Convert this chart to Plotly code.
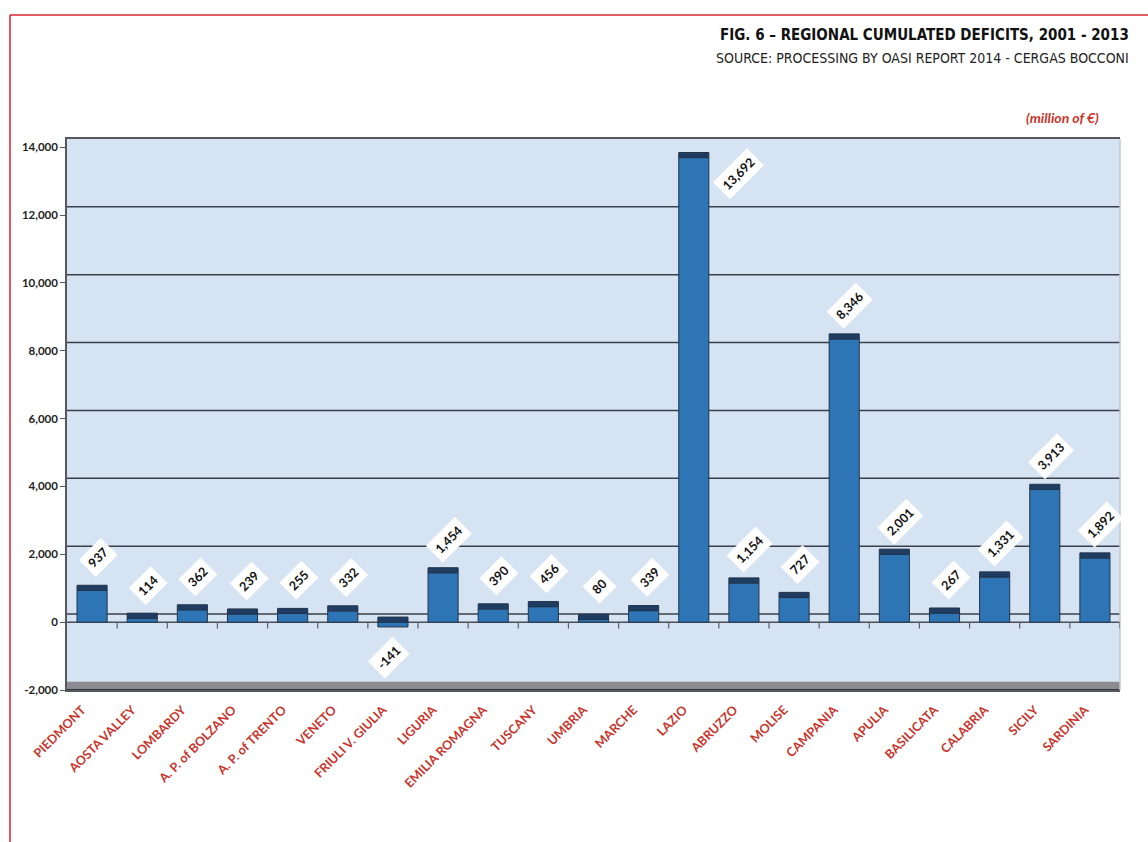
import plotly.graph_objects as go

# Regional cumulated deficits 2001-2013 (million of €)
regions = [
    "PIEDMONT", "AOSTA VALLEY", "LOMBARDY", "A. P. of BOLZANO", "A. P. of TRENTO",
    "VENETO", "FRIULI V. GIULIA", "LIGURIA", "EMILIA ROMAGNA", "TUSCANY",
    "UMBRIA", "MARCHE", "LAZIO", "ABRUZZO", "MOLISE", "CAMPANIA", "APULIA",
    "BASILICATA", "CALABRIA", "SICILY", "SARDINIA",
]
deficits = [
    937, 114, 362, 239, 255, 332, -141, 1454, 390, 456,
    80, 339, 13692, 1154, 727, 8346, 2001, 267, 1331, 3913, 1892,
]
y_ticks = [-2000, 0, 2000, 4000, 6000, 8000, 10000, 12000, 14000]
y_tick_text = ["-2,000", "0", "2,000", "4,000", "6,000", "8,000", "10,000", "12,000", "14,000"]

W, H = 1148, 842
L, R, T, B = 67, 28, 139, 152
Y_MIN, Y_MAX = -2000, 14240
WALL_OFFSET = 240      # back-wall depth of the pseudo-3D frame
CAP = 150              # thickness of the dark top face on each column

RED = "#c8352c"
BAR = "#2e75b6"
BAR_EDGE = "#22344a"
CAP_COLOR = "#1f3d63"
GRID = "#3b4048"
FRAME = "#55595f"
SANS = "Lato, Liberation Sans, sans-serif"
NARROW = "Liberation Sans Narrow, DejaVu Sans Condensed, sans-serif"


def px_x(p):
    return (p - L) / (W - L - R)


def px_y(p):
    return (H - B - p) / (H - T - B)


fig = go.Figure()

# column front faces
fig.add_trace(go.Bar(
    x=regions, y=deficits,
    marker=dict(color=BAR, line=dict(color=BAR_EDGE, width=1)),
    width=0.6, hoverinfo="x+y", showlegend=False,
))
# dark top faces
fig.add_trace(go.Bar(
    x=regions, y=[CAP] * len(regions), base=[max(v, 0) for v in deficits],
    marker=dict(color=CAP_COLOR, line=dict(color=BAR_EDGE, width=1)),
    width=0.6, hoverinfo="skip", showlegend=False,
))

shapes = []
# floor of the 3D frame
shapes.append(dict(type="rect", xref="paper", yref="y", x0=0, x1=1,
                   y0=Y_MIN, y1=Y_MIN + WALL_OFFSET, fillcolor="#8b8c90",
                   line=dict(width=0), layer="below"))
shapes.append(dict(type="line", xref="paper", yref="y", x0=0, x1=1,
                   y0=Y_MIN, y1=Y_MIN, line=dict(color="#3a3a3a", width=2)))
# light right edge of the back wall
shapes.append(dict(type="line", xref="paper", yref="paper", x0=1, x1=1,
                   y0=0, y1=1, line=dict(color="#c4c7cc", width=1.5)))
# back-wall gridlines
for t in y_ticks[1:-1]:
    shapes.append(dict(type="line", xref="paper", yref="y", x0=0, x1=1,
                       y0=t + WALL_OFFSET, y1=t + WALL_OFFSET,
                       line=dict(color=GRID, width=1.5), layer="below"))
# front baseline at zero with boundary ticks
shapes.append(dict(type="line", xref="paper", yref="y", x0=0, x1=1, y0=0, y1=0,
                   line=dict(color="#4a4f57", width=1.5), layer="below"))
for i in range(1, len(regions) + 1):
    shapes.append(dict(type="line", xref="x", yref="y", x0=i - 0.5, x1=i - 0.5,
                       y0=0, y1=-190, line=dict(color="#5a5f66", width=1.2)))
# red page frame
shapes.append(dict(type="line", xref="paper", yref="paper",
                   x0=px_x(10), x1=px_x(W + 5), y0=px_y(15), y1=px_y(15),
                   line=dict(color="#d9232e", width=1.5)))
shapes.append(dict(type="line", xref="paper", yref="paper",
                   x0=px_x(10), x1=px_x(10), y0=px_y(15), y1=px_y(H + 5),
                   line=dict(color="#d9232e", width=1.5)))

annotations = []
for name, v in zip(regions, deficits):
    label = f"{v:,}"
    if v > 12500:
        xs, ys = 45, -16
    elif v < 0:
        xs, ys = -4, -31
    else:
        xs, ys = 6, 33
    annotations.append(dict(
        x=name, y=v, xref="x", yref="y", text=label,
        showarrow=False, textangle=-45, xshift=xs, yshift=ys,
        bgcolor="white", borderpad=4,
        font=dict(family=SANS, size=12.5, color="#111", weight="bold"),
    ))

annotations += [
    dict(xref="paper", yref="paper", x=px_x(1131), y=px_y(35), xanchor="right",
         yanchor="middle", showarrow=False,
         text="FIG. 6 – REGIONAL CUMULATED DEFICITS, 2001 - 2013",
         font=dict(family=NARROW, size=15, color="#111", weight="bold")),
    dict(xref="paper", yref="paper", x=px_x(1131), y=px_y(58), xanchor="right",
         yanchor="middle", showarrow=False,
         text="SOURCE: PROCESSING BY OASI REPORT 2014 - CERGAS BOCCONI",
         font=dict(family=NARROW, size=14, color="#222")),
    dict(xref="paper", yref="paper", x=px_x(1101), y=px_y(118), xanchor="right",
         yanchor="middle", showarrow=False,
         text="<i>(million of €)</i>",
         font=dict(family=SANS, size=14, color=RED, weight="bold")),
]

fig.update_layout(
    width=W, height=H,
    margin=dict(l=L, r=R, t=T, b=B),
    paper_bgcolor="white",
    plot_bgcolor="#d5e3f2",
    barmode="overlay",
    shapes=shapes,
    annotations=annotations,
    xaxis=dict(
        type="category", range=[-0.5, len(regions) - 0.5],
        showgrid=False, showline=True, linecolor=FRAME, linewidth=1.5,
        mirror=True, ticks="", tickangle=-45,
        tickfont=dict(family=SANS, size=12.5, color=RED, weight="bold"),
        ticklabelshift=-10, ticklabelstandoff=6,
    ),
    yaxis=dict(
        range=[Y_MIN, Y_MAX], tickvals=y_ticks, ticktext=y_tick_text,
        showgrid=False, zeroline=False, showline=True, linecolor=FRAME,
        linewidth=1.5, ticks="outside", ticklen=5, tickcolor=FRAME,
        tickfont=dict(family=SANS, size=11.5, color="#222", weight="bold"),
    ),
)

fig.write_html("out.html")
